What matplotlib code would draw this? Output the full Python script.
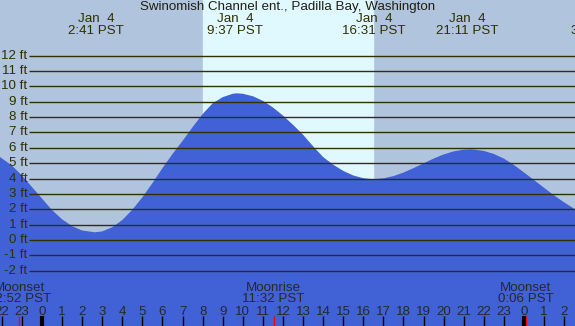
import numpy as np
import matplotlib
matplotlib.use('Agg')
import matplotlib.pyplot as plt

plt.rcParams['font.family'] = ['Liberation Sans', 'DejaVu Sans']

# tide curve (hours from midnight Jan 4, feet)
hours = [-2.09, -1.5, -1.0, -0.5, 0.0, 0.5, 1.0, 1.5, 2.0, 2.64, 3.0, 3.5,
         4.0, 4.5, 5.0, 5.5, 6.0, 6.5, 7.0, 7.5, 8.0, 8.5, 9.0, 9.5,
         9.70, 10.0, 10.5, 11.0, 11.5, 12.0, 12.5, 13.0, 13.5, 14.0, 14.5, 15.0,
         15.5, 16.0, 16.48, 17.0, 17.5, 18.0, 18.5, 19.0, 19.5, 20.0, 20.5, 21.0,
         21.31, 21.5, 22.0, 22.5, 23.0, 23.5, 24.0, 24.5, 25.0, 25.5, 26.0, 26.54]
height = [5.4, 4.85, 4.2, 3.45, 2.7, 1.95, 1.35, 0.9, 0.62, 0.5, 0.56, 0.83,
          1.3, 1.97, 2.78, 3.7, 4.68, 5.6, 6.45, 7.35, 8.2, 8.9, 9.3, 9.52,
          9.55, 9.52, 9.36, 9.06, 8.63, 8.1, 7.5, 6.85, 6.1, 5.4, 4.9, 4.5,
          4.2, 4.02, 3.95, 4.01, 4.16, 4.39, 4.68, 4.99, 5.3, 5.57, 5.77, 5.88,
          5.9, 5.89, 5.8, 5.6, 5.3, 4.88, 4.4, 3.9, 3.4, 2.9, 2.45, 2.0]

ft_levels = list(range(-2, 13))

tide_times = [2.68, 9.62, 16.52, 21.18, 27.75]
tide_labels = ['Jan  4\n2:41 PST', 'Jan  4\n9:37 PST', 'Jan  4\n16:31 PST',
               'Jan  4\n21:11 PST', 'Jan  5\n3:45 PST']

moon_times = [-1.13, 11.53, 24.10]
moon_labels = ['Moonset\n22:52 PST', 'Moonrise\n11:32 PST', 'Moonset\n0:06 PST']

sunrise, sunset = 8.02, 16.48
hour_ticks = list(range(-2, 27))

night = '#b0c4de'
day = '#e0f8ff'
water = '#4162d6'
ink = '#303000'
fs = 9.6

fig = plt.figure(figsize=(5.75, 3.26), dpi=100)
ax = fig.add_axes([0, 0, 1, 1])
x0, x1 = -2.09, 26.54
y0, y1 = -5.6, 15.625
ax.set_xlim(x0, x1)
ax.set_ylim(y0, y1)
ax.axis('off')
fig.patch.set_facecolor(night)

ax.axvspan(sunrise, sunset, color=day, zorder=0)
ax.fill_between(hours, height, y0, color=water, lw=0, zorder=1)

ax.hlines(ft_levels, -0.65, x1, color=ink, lw=1.0, zorder=2)
for f in ft_levels:
    ax.text(-0.72, f, f'{f} ft', ha='right', va='center', fontsize=fs, color=ink, zorder=3)

ax.text(0.5, 0.997, 'Swinomish Channel ent., Padilla Bay, Washington', transform=ax.transAxes,
        ha='center', va='top', fontsize=fs, color='#202010')

for t, lab in zip(tide_times, tide_labels):
    ax.text(t, 14.0, lab, ha='center', va='center', fontsize=fs, color=ink,
            linespacing=0.92)

for t, lab in zip(moon_times, moon_labels):
    ax.text(t, -3.5, lab, ha='center', va='center', fontsize=fs, color='#282828',
            linespacing=0.92)

for h in hour_ticks:
    ax.text(h, -4.7, str(h % 24), ha='center', va='center', fontsize=fs, color='#282828')
    lw = 3 if h % 24 == 0 else 1
    ax.vlines(h, -4.95, y0, color='black', lw=lw, zorder=3)
for t in moon_times:
    ax.vlines(t, -4.95, y0, color='red', lw=1, zorder=4)

fig.savefig('out.png', dpi=100, facecolor=night)
